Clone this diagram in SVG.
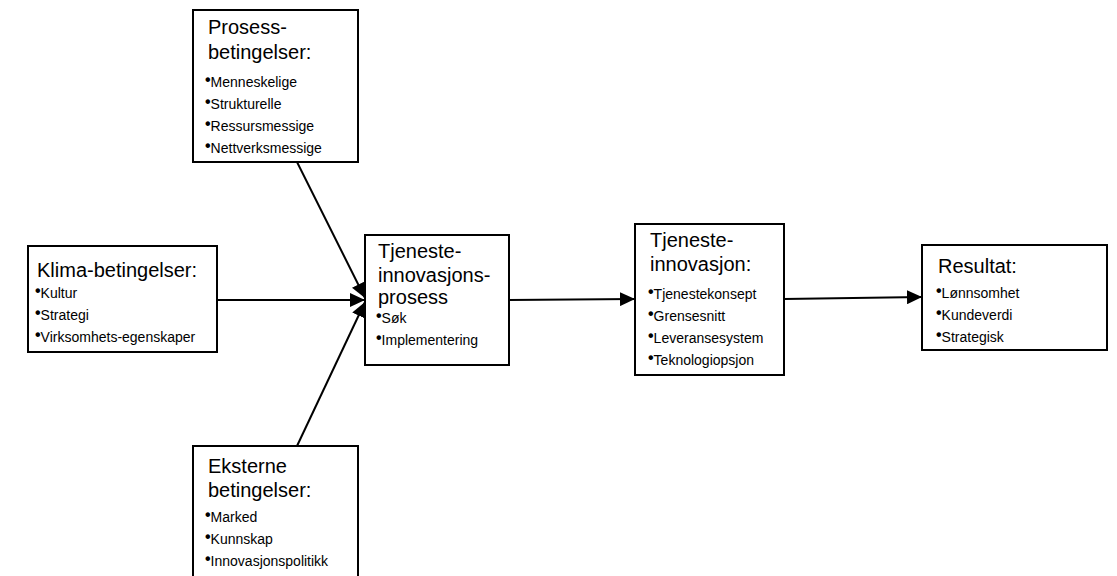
<svg xmlns="http://www.w3.org/2000/svg" width="1117" height="576" viewBox="0 0 1117 576">
  <style>
    .box { fill: #ffffff; stroke: #000000; stroke-width: 2; }
    .title { font-family: "Liberation Sans", Arial, sans-serif; font-size: 20px; fill: #000000; }
    .item { font-family: "Liberation Sans", Arial, sans-serif; font-size: 14px; fill: #000000; }
    .dot { font-size: 16px; font-weight: bold; }
    .link { fill: none; stroke: #000000; stroke-width: 2; marker-end: url(#arrow); }
  </style>
  <defs>
    <marker id="arrow" markerUnits="userSpaceOnUse" markerWidth="16" markerHeight="14" refX="15" refY="7" orient="auto">
      <path d="M0,0 L15,7 L0,14 z" fill="#000000"/>
    </marker>
  </defs>
  <rect width="1117" height="576" fill="#ffffff"/>

  <!-- arrows feeding the process box and the chain to the result -->
  <g id="connectors">
    <line class="link" x1="297" y1="162" x2="365" y2="298"/>
    <line class="link" x1="217" y1="300" x2="365" y2="300"/>
    <line class="link" x1="297" y1="446" x2="365" y2="302"/>
    <line class="link" x1="509" y1="300" x2="635" y2="299"/>
    <line class="link" x1="784" y1="299" x2="922" y2="297"/>
  </g>

  <g id="prosess-betingelser">
    <rect class="box" x="193" y="10" width="165" height="152"/>
    <text class="title" x="208" y="34">Prosess-</text>
    <text class="title" x="208" y="59">betingelser:</text>
    <text class="item" x="205" y="87"><tspan class="dot" dy="-2">•</tspan><tspan dy="2">Menneskelige</tspan></text>
    <text class="item" x="205" y="109"><tspan class="dot" dy="-2">•</tspan><tspan dy="2">Strukturelle</tspan></text>
    <text class="item" x="205" y="131"><tspan class="dot" dy="-2">•</tspan><tspan dy="2">Ressursmessige</tspan></text>
    <text class="item" x="205" y="153"><tspan class="dot" dy="-2">•</tspan><tspan dy="2">Nettverksmessige</tspan></text>
  </g>

  <g id="klima-betingelser">
    <rect class="box" x="28" y="246" width="189" height="106"/>
    <text class="title" x="37" y="277">Klima-betingelser:</text>
    <text class="item" x="35" y="298"><tspan class="dot" dy="-2">•</tspan><tspan dy="2">Kultur</tspan></text>
    <text class="item" x="35" y="320"><tspan class="dot" dy="-2">•</tspan><tspan dy="2">Strategi</tspan></text>
    <text class="item" x="35" y="342"><tspan class="dot" dy="-2">•</tspan><tspan dy="2">Virksomhets-egenskaper</tspan></text>
  </g>

  <g id="tjeneste-innovasjonsprosess">
    <rect class="box" x="365" y="235" width="144" height="130"/>
    <text class="title" x="378" y="258">Tjeneste-</text>
    <text class="title" x="378" y="282">innovasjons-</text>
    <text class="title" x="378" y="304">prosess</text>
    <text class="item" x="376" y="323"><tspan class="dot" dy="-2">•</tspan><tspan dy="2">Søk</tspan></text>
    <text class="item" x="376" y="345"><tspan class="dot" dy="-2">•</tspan><tspan dy="2">Implementering</tspan></text>
  </g>

  <g id="tjeneste-innovasjon">
    <rect class="box" x="635" y="224" width="149" height="151"/>
    <text class="title" x="650" y="247">Tjeneste-</text>
    <text class="title" x="650" y="271">innovasjon:</text>
    <text class="item" x="648" y="299"><tspan class="dot" dy="-2">•</tspan><tspan dy="2">Tjenestekonsept</tspan></text>
    <text class="item" x="648" y="321"><tspan class="dot" dy="-2">•</tspan><tspan dy="2">Grensesnitt</tspan></text>
    <text class="item" x="648" y="343"><tspan class="dot" dy="-2">•</tspan><tspan dy="2">Leveransesystem</tspan></text>
    <text class="item" x="648" y="365"><tspan class="dot" dy="-2">•</tspan><tspan dy="2">Teknologiopsjon</tspan></text>
  </g>

  <g id="resultat">
    <rect class="box" x="922" y="245" width="185" height="105"/>
    <text class="title" x="938" y="273">Resultat:</text>
    <text class="item" x="936" y="298"><tspan class="dot" dy="-2">•</tspan><tspan dy="2">Lønnsomhet</tspan></text>
    <text class="item" x="936" y="320"><tspan class="dot" dy="-2">•</tspan><tspan dy="2">Kundeverdi</tspan></text>
    <text class="item" x="936" y="342"><tspan class="dot" dy="-2">•</tspan><tspan dy="2">Strategisk</tspan></text>
  </g>

  <g id="eksterne-betingelser">
    <rect class="box" x="193" y="446" width="165" height="140"/>
    <text class="title" x="208" y="473">Eksterne</text>
    <text class="title" x="208" y="497">betingelser:</text>
    <text class="item" x="205" y="522"><tspan class="dot" dy="-2">•</tspan><tspan dy="2">Marked</tspan></text>
    <text class="item" x="205" y="544"><tspan class="dot" dy="-2">•</tspan><tspan dy="2">Kunnskap</tspan></text>
    <text class="item" x="205" y="566"><tspan class="dot" dy="-2">•</tspan><tspan dy="2">Innovasjonspolitikk</tspan></text>
  </g>
</svg>
